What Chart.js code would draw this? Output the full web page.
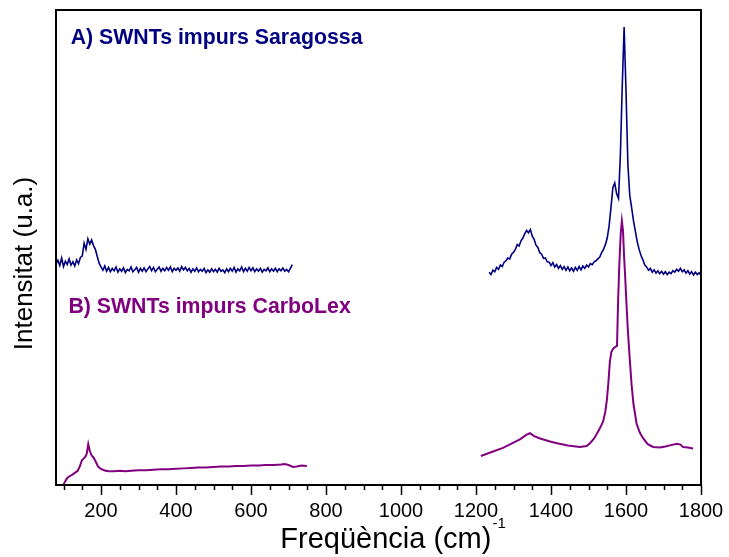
<!DOCTYPE html>
<html>
<head>
<meta charset="utf-8">
<title>Espectres Raman SWNTs</title>
<script src="https://cdn.jsdelivr.net/npm/chart.js@4.4.0/dist/chart.umd.min.js"></script>
<style>
  html, body { margin: 0; padding: 0; background: #ffffff; }
  #wrap { width: 729px; height: 557px; }
</style>
</head>
<body>
<div id="wrap"><canvas id="raman" width="729" height="557"></canvas></div>
<script>
// Raman shift (cm-1) and intensity (a.u., stacked offset) for each spectrum segment

// A) SWNTs impurs Saragossa — low-frequency window (RBM region)
const shiftA1 = [
  80,85,90,95,100,105,110,115,120,125,
  130,135,140,145,150,155,160,165,170,175,
  180,185,190,195,200,205,210,215,220,225,
  230,235,240,245,250,255,260,265,270,275,
  280,285,290,295,300,305,310,315,320,325,
  330,335,340,345,350,355,360,365,370,375,
  380,385,390,395,400,405,410,415,420,425,
  430,435,440,445,450,455,460,465,470,475,
  480,485,490,495,500,505,510,515,520,525,
  530,535,540,545,550,555,560,565,570,575,
  580,585,590,595,600,605,610,615,620,625,
  630,635,640,645,650,655,660,665,670,675,
  680,685,690,695,700,705,710
];
const intensityA1 = [
  46.5,47.3,46.2,47.8,46.0,47.1,46.4,47.6,46.3,47.0,
  46.1,47.4,46.6,47.9,48.2,50.9,49.6,51.8,50.7,51.6,
  50.4,49.6,48.1,46.7,45.9,45.2,46.1,45.0,45.8,44.9,
  45.6,45.1,45.9,44.8,45.5,45.0,45.7,44.7,45.4,45.1,
  45.9,44.9,45.3,45.8,44.8,45.6,45.0,45.7,44.9,45.5,
  46.0,45.1,45.8,44.9,45.4,45.9,45.0,45.6,45.1,45.8,
  45.2,45.9,44.9,45.6,45.2,45.7,45.0,46.0,45.3,45.8,
  45.1,45.6,44.8,45.5,45.0,45.7,44.9,45.4,45.0,45.6,
  44.7,45.3,44.8,45.5,44.9,45.4,44.8,45.6,45.0,45.3,
  44.7,45.5,44.9,45.6,45.0,45.8,44.8,45.5,45.1,45.9,
  44.9,45.6,45.0,45.8,45.1,45.7,44.9,45.5,45.0,45.6,
  44.8,45.4,45.1,45.7,44.9,45.5,45.0,45.6,44.9,45.5,
  45.1,45.7,45.0,45.4,44.9,45.6,46.4
];

// A) SWNTs impurs Saragossa — high-frequency window (D and G bands)
const shiftA2 = [
  1235,1240,1245,1250,1255,1260,1265,1270,1275,1280,
  1285,1290,1295,1300,1305,1310,1315,1320,1325,1330,
  1335,1340,1345,1350,1355,1360,1365,1370,1375,1380,
  1385,1390,1395,1400,1405,1410,1415,1420,1425,1430,
  1435,1440,1445,1450,1455,1460,1465,1470,1475,1480,
  1485,1490,1495,1500,1505,1510,1515,1520,1525,1530,
  1535,1540,1545,1550,1555,1560,1565,1570,1575,1580,
  1585,1590,1595,1600,1605,1610,1615,1620,1625,1630,
  1635,1640,1645,1650,1655,1660,1665,1670,1675,1680,
  1685,1690,1695,1700,1705,1710,1715,1720,1725,1730,
  1735,1740,1745,1750,1755,1760,1765,1770,1775,1780,
  1785,1790,1795,1800
];
const intensityA2 = [
  44.8,44.3,45.2,44.9,45.8,45.4,46.3,46.0,46.9,47.2,
  47.8,47.6,48.6,49.0,49.6,50.6,50.3,51.4,52.0,52.9,
  53.6,53.1,53.8,52.4,51.7,50.5,50.0,48.9,48.6,47.7,
  47.8,47.0,46.9,46.2,46.8,45.9,46.4,45.6,46.2,45.4,
  46.0,45.2,45.9,45.1,45.7,45.0,45.8,45.2,46.0,45.3,
  46.1,45.6,46.3,45.9,46.6,46.4,47.0,47.2,47.6,48.0,
  48.9,49.6,50.6,52.0,54.6,58.5,62.6,63.6,61.3,60.3,
  69.5,84.0,96.4,83.0,67.5,61.0,58.4,55.6,53.4,51.2,
  49.6,48.3,47.4,46.3,45.9,45.2,45.6,44.8,45.3,44.6,
  45.1,44.5,45.0,44.4,44.9,44.3,44.8,44.5,45.1,44.8,
  45.4,45.0,45.6,44.9,45.3,44.6,45.1,44.4,44.9,44.2,
  44.8,44.3,44.7,44.1
];

// B) SWNTs impurs CarboLex — low-frequency window
const shiftB1 = [
  97,104,110,117,124,131,138,144,149,153,
  158,162,166,170,175,180,186,192,198,205,
  212,220,235,250,265,280,300,320,340,360,
  380,400,420,440,460,480,500,520,540,560,
  580,600,620,640,660,680,690,700,712,722,
  735,749
];
const intensityB1 = [
  -0.4,0.7,1.5,1.9,2.2,2.6,3.0,4.0,5.2,5.5,
  5.9,6.6,8.6,7.2,6.2,5.8,4.9,3.9,3.5,3.2,
  3.0,2.9,2.9,3.0,2.9,3.0,3.1,3.1,3.2,3.3,
  3.3,3.4,3.5,3.6,3.7,3.7,3.8,3.9,3.9,4.0,
  4.0,4.1,4.1,4.2,4.2,4.3,4.4,4.2,3.8,3.9,
  4.1,4.0
];

// B) SWNTs impurs CarboLex — high-frequency window
const shiftB2 = [
  1213,1240,1272,1300,1317,1335,1344,1355,1371,1395,
  1416,1445,1477,1495,1504,1515,1523,1532,1539,1545,
  1549,1553,1557,1561,1565,1570,1576,1579,1582,1586,
  1589,1592,1595,1598,1602,1605,1610,1615,1620,1628,
  1637,1646,1658,1672,1690,1705,1720,1736,1745,1752,
  1765,1779
];
const intensityB2 = [
  6.1,6.9,7.8,8.9,9.6,10.6,10.9,10.3,9.8,9.2,
  8.8,8.3,8.0,8.2,8.8,9.8,10.9,12.2,13.4,15.5,
  17.9,21.5,26.0,28.0,28.6,29.0,29.3,38.9,46.0,53.0,
  55.6,53.5,48.0,43.5,37.0,32.5,26.5,21.0,17.0,13.0,
  11.0,9.8,8.6,8.0,7.9,8.1,8.4,8.7,8.5,8.0,
  7.9,7.7
];

// Axis ticks
const majorTicks = [200, 400, 600, 800, 1000, 1200, 1400, 1600, 1800];
const minorTickStep = 50;

// Spectrum captions
const seriesNames = ['A) SWNTs impurs Saragossa', 'B) SWNTs impurs CarboLex'];
const seriesColors = ['#000080', '#800080'];

const pairs = (xs, ys) => xs.map((x, i) => ({ x: x, y: ys[i] }));

const FONT = "'Liberation Sans', Arial, Helvetica, sans-serif";

const frameAndTitles = {
  id: 'frameAndTitles',
  afterDraw(chart) {
    const { ctx, chartArea: a, scales } = chart;
    const xs = scales.x, ys = scales.y;
    ctx.save();

    // tick marks on the bottom axis (minor every 50, major every 200)
    ctx.strokeStyle = '#000';
    ctx.lineWidth = 1.5;
    for (let v = xs.min + (minorTickStep - xs.min % minorTickStep) % minorTickStep; v <= xs.max; v += minorTickStep) {
      const px = Math.round(xs.getPixelForValue(v)) + 0.5;
      const len = majorTicks.includes(v) ? 10 : 5;
      ctx.beginPath();
      ctx.moveTo(px, a.bottom);
      ctx.lineTo(px, a.bottom + len);
      ctx.stroke();
    }

    // plot frame
    ctx.lineWidth = 2;
    ctx.strokeRect(a.left, a.top, a.right - a.left, a.bottom - a.top);

    // spectrum captions
    ctx.font = 'bold 21.3px ' + FONT;
    ctx.textAlign = 'left';
    ctx.textBaseline = 'alphabetic';
    ctx.fillStyle = seriesColors[0];
    ctx.fillText(seriesNames[0], xs.getPixelForValue(119), ys.getPixelForValue(92.8));
    ctx.fillStyle = seriesColors[1];
    ctx.fillText(seriesNames[1], xs.getPixelForValue(113), ys.getPixelForValue(36.2));

    // x-axis title with superscript
    ctx.fillStyle = '#000';
    const main = 'Freqüència (cm)';
    const sup = '-1';
    ctx.font = '29px ' + FONT;
    const wMain = ctx.measureText(main).width;
    ctx.font = '15px ' + FONT;
    const wSup = ctx.measureText(sup).width;
    const cx = (a.left + a.right) / 2 + 14;
    const x0 = cx - (wMain + wSup) / 2;
    const base = chart.height - 9;
    ctx.font = '29px ' + FONT;
    ctx.fillText(main, x0, base);
    ctx.font = '15px ' + FONT;
    ctx.fillText(sup, x0 + wMain + 1, base - 20);

    // y-axis title
    ctx.font = '26px ' + FONT;
    ctx.textAlign = 'center';
    ctx.translate(32, (a.top + a.bottom) / 2 + 16);
    ctx.rotate(-Math.PI / 2);
    ctx.fillText('Intensitat (u.a.)', 0, 0);

    ctx.restore();
  }
};

new Chart(document.getElementById('raman').getContext('2d'), {
  type: 'line',
  data: {
    datasets: [
      { data: pairs(shiftA1, intensityA1), borderColor: seriesColors[0], borderWidth: 1.6 },
      { data: pairs(shiftA2, intensityA2), borderColor: seriesColors[0], borderWidth: 1.6 },
      { data: pairs(shiftB1, intensityB1), borderColor: seriesColors[1], borderWidth: 2 },
      { data: pairs(shiftB2, intensityB2), borderColor: seriesColors[1], borderWidth: 2 }
    ]
  },
  options: {
    responsive: false,
    animation: false,
    events: [],
    elements: { point: { radius: 0 }, line: { tension: 0, fill: false } },
    layout: { padding: { left: 56, top: 10, right: 28, bottom: 0 } },
    plugins: { legend: { display: false }, tooltip: { enabled: false } },
    scales: {
      x: {
        type: 'linear',
        min: 80,
        max: 1800,
        grid: { display: false, drawTicks: true, tickLength: 10 },
        border: { display: false },
        afterBuildTicks: (s) => { s.ticks = majorTicks.map(v => ({ value: v })); },
        afterFit: (s) => { s.height = 72; },
        ticks: {
          autoSkip: false,
          maxRotation: 0,
          padding: 4,
          color: '#000',
          font: { family: FONT, size: 20 },
          callback: (v) => String(v)
        }
      },
      y: { display: false, min: 0, max: 100 }
    }
  },
  plugins: [frameAndTitles]
});
</script>
</body>
</html>
